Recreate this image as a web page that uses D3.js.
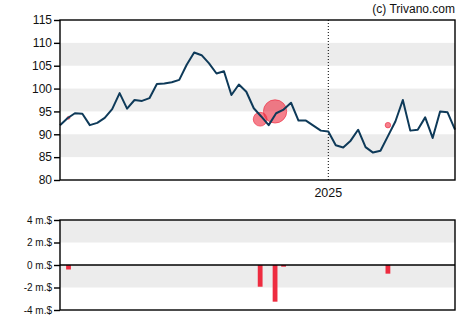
<!DOCTYPE html>
<html>
<head>
<meta charset="utf-8">
<script src="https://cdn.jsdelivr.net/npm/d3@7"></script>
<style>
  html, body { margin: 0; padding: 0; background: #fff; }
  svg { display: block; font-family: "Liberation Sans", Arial, sans-serif; }
</style>
</head>
<body>
<svg id="chart" width="470" height="325"></svg>
<script>
// Weekly closing prices, one value per week starting at priceStart
const priceStart = "2024-04-24";
const priceValues = [
  92.0, 93.5, 94.6, 94.5, 92.0, 92.5, 93.6, 95.5, 99.0, 95.6,
  97.5, 97.3, 97.9, 101.0, 101.1, 101.4, 101.9, 105.2, 107.9, 107.3,
  105.5, 103.3, 103.8, 98.6, 100.9, 99.3, 95.7, 93.9, 92.0, 94.6,
  95.4, 96.9, 93.0, 93.0, 91.9, 90.8, 90.6, 87.6, 87.1, 88.6,
  91.0, 87.2, 86.0, 86.4, 89.6, 92.8, 97.5, 90.8, 91.0, 93.7,
  89.2, 95.0, 94.8, 91.0
];

// Insider transactions: date, price paid, net amount in millions of $
const tradeDates = ["2024-05-02", "2024-10-29", "2024-11-12", "2024-11-20", "2025-02-26"];
const tradePrices = [93.6, 93.3, 95.0, 95.4, 92.0];
const tradeAmounts = [-0.4, -1.93, -3.26, -0.15, -0.77];

const priceTicks = [80, 85, 90, 95, 100, 105, 110, 115];
const amountTicks = [-4, -2, 0, 2, 4];
const yearMarks = ["2025-01-01"];

const parse = d3.utcParse("%Y-%m-%d");
const start = parse(priceStart);
const prices = priceValues.map((v, i) => ({ date: d3.utcDay.offset(start, 7 * i), value: v }));
const trades = tradeDates.map((d, i) => ({ date: parse(d), price: tradePrices[i], amount: tradeAmounts[i] }));

const svg = d3.select("#chart");
const left = 60, right = 455;
const top1 = 20, bottom1 = 180;
const top2 = 220, bottom2 = 310;

const x = d3.scaleUtc()
  .domain([prices[0].date, prices[prices.length - 1].date])
  .range([left, right]);
const y = d3.scaleLinear().domain([80, 115]).range([bottom1, top1]);
const y2 = d3.scaleLinear().domain([-4, 4]).range([bottom2, top2]);
const r = d3.scaleLinear().domain([0, 3.3]).range([0, 11.8]);

const gray = "#ececec";
const red = "#ee2c40";
const navy = "#0e3a59";

// Shaded bands, price panel
[[105, 110], [95, 100], [85, 90]].forEach(([a, b]) => {
  svg.append("rect")
    .attr("x", left).attr("width", right - left)
    .attr("y", y(b)).attr("height", y(a) - y(b))
    .attr("fill", gray);
});
// Shaded bands, amount panel
[[2, 4], [-2, 0]].forEach(([a, b]) => {
  svg.append("rect")
    .attr("x", left).attr("width", right - left)
    .attr("y", y2(b)).attr("height", y2(a) - y2(b))
    .attr("fill", gray);
});

// Year separator
yearMarks.forEach(d => {
  const xv = x(parse(d));
  svg.append("line")
    .attr("x1", xv).attr("x2", xv)
    .attr("y1", top1).attr("y2", bottom1)
    .attr("stroke", "#000").attr("stroke-width", 1)
    .attr("stroke-dasharray", "1,2");
  svg.append("text")
    .attr("x", xv).attr("y", 197)
    .attr("text-anchor", "middle")
    .attr("font-size", 12.5).attr("fill", "#111")
    .text(d3.utcFormat("%Y")(parse(d)));
});

// Transaction bubbles
svg.append("g").selectAll("circle")
  .data(trades)
  .join("circle")
  .attr("cx", d => x(d.date))
  .attr("cy", d => y(d.price))
  .attr("r", d => r(Math.abs(d.amount)))
  .attr("fill", red).attr("fill-opacity", 0.6)
  .attr("stroke", red).attr("stroke-opacity", 0.8).attr("stroke-width", 0.8);

// Price line
svg.append("path")
  .datum(prices)
  .attr("fill", "none")
  .attr("stroke", navy)
  .attr("stroke-width", 2)
  .attr("stroke-linejoin", "round")
  .attr("d", d3.line().x(d => x(d.date)).y(d => y(d.value)));

// Transaction bars
svg.append("g").selectAll("rect")
  .data(trades)
  .join("rect")
  .attr("x", d => x(d.date) - 2.4)
  .attr("width", 4.8)
  .attr("y", d => Math.min(y2(0), y2(d.amount)))
  .attr("height", d => Math.abs(y2(d.amount) - y2(0)))
  .attr("fill", red);

// Frames
const frame = (t, b) => svg.append("rect")
  .attr("x", left).attr("y", t)
  .attr("width", right - left).attr("height", b - t)
  .attr("fill", "none").attr("stroke", "#000").attr("stroke-width", 1.4);
frame(top1, bottom1);
frame(top2, bottom2);
svg.append("line")
  .attr("x1", left).attr("x2", right)
  .attr("y1", y2(0)).attr("y2", y2(0))
  .attr("stroke", "#000").attr("stroke-width", 1.4);

// Axes
const yAxis = svg.append("g")
  .attr("transform", `translate(${left},0)`)
  .call(d3.axisLeft(y).tickValues(priceTicks).tickSize(6).tickPadding(2));
yAxis.select(".domain").remove();
yAxis.selectAll("line").attr("stroke", "#000").attr("stroke-width", 1.4);
yAxis.selectAll("text").attr("font-size", 12).attr("fill", "#111")
  .attr("font-family", "Liberation Sans, Arial, sans-serif");

const y2Axis = svg.append("g")
  .attr("transform", `translate(${left},0)`)
  .call(d3.axisLeft(y2).tickValues(amountTicks).tickSize(6).tickPadding(2)
    .tickFormat(d => `${d} m.$`));
y2Axis.select(".domain").remove();
y2Axis.selectAll("line").attr("stroke", "#000").attr("stroke-width", 1.4);
y2Axis.selectAll("text").attr("font-size", 10).attr("fill", "#111")
  .attr("font-family", "Liberation Sans, Arial, sans-serif");

// Credit
svg.append("text")
  .attr("x", right).attr("y", 13)
  .attr("text-anchor", "end")
  .attr("font-size", 12).attr("fill", "#111")
  .text("(c) Trivano.com");
</script>
</body>
</html>
